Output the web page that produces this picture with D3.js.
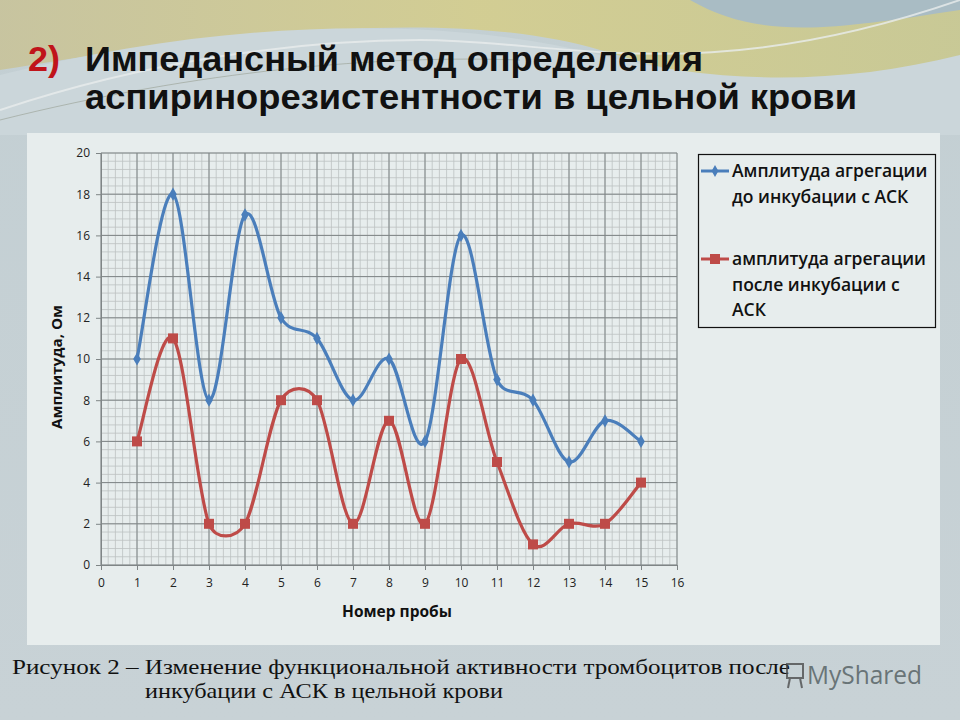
<!DOCTYPE html>
<html><head><meta charset="utf-8">
<script src="https://cdnjs.cloudflare.com/ajax/libs/d3/7.8.5/d3.min.js"></script>
<style>html,body{margin:0;padding:0;background:#c9d3d7;}svg{display:block;}</style>
</head><body>
<script>
const probes = [1,2,3,4,5,6,7,8,9,10,11,12,13,14,15];
const before = [10,18,8,17,12,11,8,10,6,16,9,8,5,7,6];
const after  = [6,11,2,2,8,8,2,7,2,10,5,1,2,2,4];
const xTicks = d3.range(0,17,1);
const yTicks = d3.range(0,21,2);
const seriesNames = [["Амплитуда агрегации","до инкубации с АСК"],["амплитуда агрегации","после инкубации с","АСК"]];

const W=960,H=720;
const svg=d3.select("body").append("svg").attr("width",W).attr("height",H);
const defs=svg.append("defs");
const bg=defs.append("linearGradient").attr("id","bg").attr("x1",0).attr("y1",0).attr("x2",0).attr("y2",1);
bg.append("stop").attr("offset",0).attr("stop-color","#c3cfd3");
bg.append("stop").attr("offset",1).attr("stop-color","#c8d2d6");
svg.append("rect").attr("width",W).attr("height",H).attr("fill","url(#bg)");
const yg=defs.append("linearGradient").attr("id","yg").attr("x1",0).attr("y1",0).attr("x2",1).attr("y2",0);
yg.append("stop").attr("offset",0).attr("stop-color","#c8c39a");
yg.append("stop").attr("offset",0.5).attr("stop-color","#d4cd8c");
yg.append("stop").attr("offset",1).attr("stop-color","#c9c88f");
// decorative swooshes
svg.append("path").attr("d","M0,0 L960,0 L960,60 C820,110 700,80 600,50 C480,15 300,20 0,70 Z").attr("fill","url(#yg)").attr("opacity",0.9);
svg.append("path").attr("d","M690,0 C760,40 830,30 960,10 L960,0 Z").attr("fill","#a9bcc4");
svg.append("path").attr("d","M0,75 C200,25 420,10 600,55 C720,85 840,85 960,55 L960,135 L0,135 Z").attr("fill","#cbd6da");
svg.append("path").attr("d","M0,110 C150,60 300,40 420,40 C560,40 700,90 960,0").attr("fill","none").attr("stroke","#e8ecec").attr("stroke-width",2).attr("opacity",0.8);
svg.append("path").attr("d","M0,120 C200,70 380,55 520,60").attr("fill","none").attr("stroke","#8a8f7e").attr("stroke-width",0.8).attr("opacity",0.6);

// title
const tf="Liberation Sans Narrow, Liberation Sans, sans-serif";
svg.append("text").attr("x",28).attr("y",71).text("2)")
  .attr("font-family",tf).attr("font-weight","bold").attr("font-size",35).attr("fill","#c0141a")
  .attr("textLength",32).attr("lengthAdjust","spacingAndGlyphs");
svg.append("text").attr("x",85).attr("y",71).text("Импедансный метод определения")
  .attr("font-family",tf).attr("font-weight","bold").attr("font-size",35).attr("fill","#111")
  .attr("textLength",618).attr("lengthAdjust","spacingAndGlyphs");
svg.append("text").attr("x",85).attr("y",109).text("аспиринорезистентности в цельной крови")
  .attr("font-family",tf).attr("font-weight","bold").attr("font-size",35).attr("fill","#111")
  .attr("textLength",772).attr("lengthAdjust","spacingAndGlyphs");

// chart panel
svg.append("rect").attr("x",27).attr("y",133).attr("width",913).attr("height",512).attr("fill","#e7eded");

const x=d3.scaleLinear().domain([0,16]).range([101,677]);
const y=d3.scaleLinear().domain([0,20]).range([565,153]);
const g=svg.append("g");
// minor grid
g.selectAll(".vx").data(d3.range(0,16.01,0.2)).join("line")
  .attr("x1",d=>x(d)).attr("x2",d=>x(d)).attr("y1",y(0)).attr("y2",y(20))
  .attr("stroke","#bcc1c2").attr("stroke-width",0.8);
g.selectAll(".hy").data(d3.range(0,20.01,0.4)).join("line")
  .attr("y1",d=>y(d)).attr("y2",d=>y(d)).attr("x1",x(0)).attr("x2",x(16))
  .attr("stroke","#bcc1c2").attr("stroke-width",0.8);
// major grid
g.selectAll(".mx").data(xTicks).join("line")
  .attr("x1",d=>x(d)).attr("x2",d=>x(d)).attr("y1",y(0)).attr("y2",y(20))
  .attr("stroke","#7f8586").attr("stroke-width",1);
g.selectAll(".my").data(yTicks).join("line")
  .attr("y1",d=>y(d)).attr("y2",d=>y(d)).attr("x1",x(0)).attr("x2",x(16))
  .attr("stroke","#7f8586").attr("stroke-width",1);

// axes
const xa=svg.append("g").attr("transform",`translate(0,${y(0)})`)
  .call(d3.axisBottom(x).tickValues(xTicks).tickSize(5).tickFormat(d3.format("d")));
const ya=svg.append("g").attr("transform",`translate(${x(0)},0)`)
  .call(d3.axisLeft(y).tickValues(yTicks).tickSize(5).tickFormat(d3.format("d")));
[xa,ya].forEach(a=>{
  a.select(".domain").attr("stroke","#7f8586");
  a.selectAll(".tick line").attr("stroke","#7f8586");
  a.selectAll("text").attr("font-family","Open Sans, sans-serif").attr("font-size",12).attr("fill","#222");
});
xa.selectAll("text").attr("dy","1.2em");
ya.selectAll("text").attr("dx","-3");

svg.append("text").attr("x",397).attr("y",617).attr("text-anchor","middle").text("Номер пробы")
  .attr("font-family","Open Sans, sans-serif").attr("font-weight","bold").attr("font-size",15.5).attr("fill","#111");
svg.append("text").attr("transform","translate(62,367) rotate(-90)").attr("text-anchor","middle").text("Амплитуда, Ом")
  .attr("font-family","Open Sans, sans-serif").attr("font-weight","bold").attr("font-size",15).attr("fill","#111")
  .attr("textLength",124).attr("lengthAdjust","spacingAndGlyphs");

// Excel-style smoothed line: Catmull-Rom Bezier (1/6) with arms clamped to half segment
function excelSmooth(data){
  const pts=data.map(d=>[x(d[0]),y(d[1])]);
  const n=pts.length, p=d3.path();
  const dist=(a,b)=>Math.hypot(a[0]-b[0],a[1]-b[1]);
  p.moveTo(pts[0][0],pts[0][1]);
  for(let i=0;i<n-1;i++){
    const p0=pts[Math.max(i-1,0)],p1=pts[i],p2=pts[i+1],p3=pts[Math.min(i+2,n-1)];
    const d12=dist(p1,p2), d02=dist(p0,p2), d13=dist(p1,p3);
    let f1=1/6; if(d02/6>d12/2) f1=d12/(2*d02);
    let f2=1/6; if(d13/6>d12/2) f2=d12/(2*d13);
    p.bezierCurveTo(p1[0]+f1*(p2[0]-p0[0]),p1[1]+f1*(p2[1]-p0[1]),
                    p2[0]-f2*(p3[0]-p1[0]),p2[1]-f2*(p3[1]-p1[1]),p2[0],p2[1]);
  }
  return p.toString();
}
const colB="#4a7ebb", colR="#be4b48";
const dB=probes.map((p,i)=>[p,before[i]]), dR=probes.map((p,i)=>[p,after[i]]);
svg.append("path").datum(dR).attr("d",excelSmooth).attr("fill","none").attr("stroke",colR).attr("stroke-width",3.2);
svg.append("path").datum(dB).attr("d",excelSmooth).attr("fill","none").attr("stroke",colB).attr("stroke-width",3.2);
svg.selectAll(".mr").data(dR).join("rect").attr("x",d=>x(d[0])-5).attr("y",d=>y(d[1])-5)
  .attr("width",10).attr("height",10).attr("fill",colR);
const dia=d3.symbol().type(d3.symbolDiamond).size(50);
svg.selectAll(".mb").data(dB).join("path").attr("d",dia)
  .attr("transform",d=>`translate(${x(d[0])},${y(d[1])})`).attr("fill",colB);

// legend
const lg=svg.append("g");
lg.append("rect").attr("x",698.5).attr("y",154.5).attr("width",237).attr("height",173).attr("fill","#e7eded").attr("stroke","#111").attr("stroke-width",1.2);
const legRows=[{c:colB,y:171,m:"d"},{c:colR,y:259,m:"s"}];
legRows.forEach((r,i)=>{
  lg.append("line").attr("x1",701).attr("x2",729).attr("y1",r.y).attr("y2",r.y).attr("stroke",r.c).attr("stroke-width",3);
  if(r.m==="d") lg.append("path").attr("d",d3.symbol().type(d3.symbolDiamond).size(40)).attr("transform",`translate(715,${r.y})`).attr("fill",r.c);
  else lg.append("rect").attr("x",710).attr("y",r.y-5).attr("width",10).attr("height",10).attr("fill",r.c);
  seriesNames[i].forEach((t,j)=>{
    lg.append("text").attr("x",732).attr("y",r.y+6+j*25.5).text(t)
      .attr("font-family","Open Sans, sans-serif").attr("font-weight","600").attr("font-size",17.5).attr("fill","#111");
  });
});

// caption
svg.append("text").attr("x",12).attr("y",674).text("Рисунок 2 – Изменение функциональной активности тромбоцитов после")
  .attr("font-family","Liberation Serif, serif").attr("font-size",22).attr("fill","#111")
  .attr("textLength",778).attr("lengthAdjust","spacingAndGlyphs");
svg.append("text").attr("x",145).attr("y",698).text("инкубации с АСК в цельной крови")
  .attr("font-family","Liberation Serif, serif").attr("font-size",22).attr("fill","#111")
  .attr("textLength",358).attr("lengthAdjust","spacingAndGlyphs");

// watermark
const wm=svg.append("g").attr("opacity",0.75);
wm.append("rect").attr("x",787).attr("y",664).attr("width",16).attr("height",14).attr("fill","none").attr("stroke","#444").attr("stroke-width",2);
wm.append("line").attr("x1",790).attr("x2",788).attr("y1",678).attr("y2",688).attr("stroke","#444").attr("stroke-width",2);
wm.append("line").attr("x1",800).attr("x2",802).attr("y1",678).attr("y2",688).attr("stroke","#444").attr("stroke-width",2);
wm.append("text").attr("x",807).attr("y",684).text("MyShared")
  .attr("font-family","Open Sans, sans-serif").attr("font-size",25).attr("fill","#4a5558")
  .attr("textLength",115).attr("lengthAdjust","spacingAndGlyphs");
</script>
</body></html>
